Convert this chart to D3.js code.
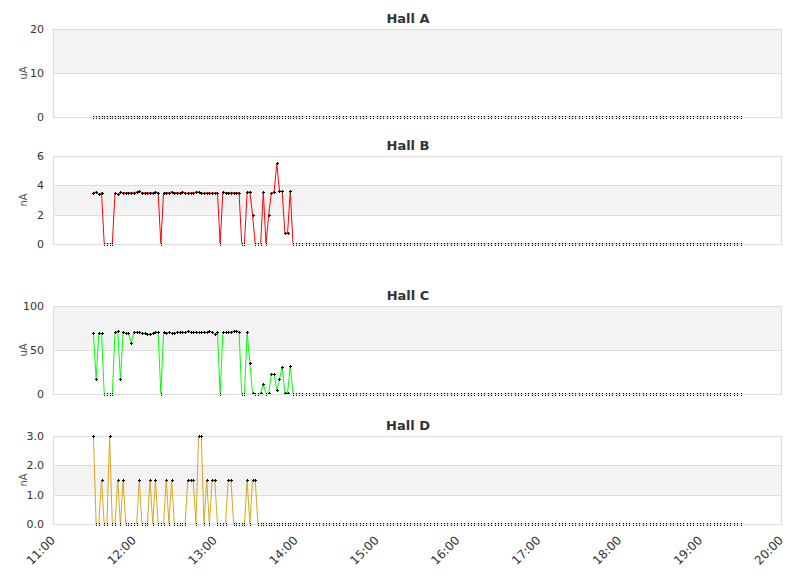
<!DOCTYPE html>
<html>
<head>
<meta charset="utf-8">
<script src="https://cdn.jsdelivr.net/npm/d3@7/dist/d3.min.js"></script>
<style>
  html, body { margin: 0; padding: 0; background: #ffffff; }
  svg { display: block; }
</style>
</head>
<body>
<div id="chart"></div>
<script>
// ---------------- data ----------------
const hallNames = ["Hall A", "Hall B", "Hall C", "Hall D"];
const hallUnits = ["uA", "nA", "uA", "nA"];

const yTicksA = [0, 10, 20];
const yTicksB = [0, 2, 4, 6];
const yTicksC = [0, 50, 100];
const yTicksD = [0, 1, 2, 3];
const yTickFormats = ["d", "d", "d", ".1f"];

const xTickLabels = ["11:00","12:00","13:00","14:00","15:00","16:00","17:00","18:00","19:00","20:00"];

// active period: readings every 2 minutes from 11:30 to 13:58
const activeStart = "11:30";
const activeStepMin = 2;
// idle period: readings every 2.5 minutes from 14:00 to 19:30
const idleStart = "14:00";
const idleStepMin = 2.5;

const hallAActive = [
  0,0,0,0,0,0,0,0,0,0,0,0,0,0,0,0,0,0,0,0,0,0,0,0,0,
  0,0,0,0,0,0,0,0,0,0,0,0,0,0,0,0,0,0,0,0,0,0,0,0,0,
  0,0,0,0,0,0,0,0,0,0,0,0,0,0,0,0,0,0,0,0,0,0,0,0,0
];
const hallBActive = [
  3.5,3.55,3.4,3.5, 0,0,0,0,
  3.5,3.4,3.55,3.5,3.5,3.5,3.5,3.5,3.55,3.6,3.5,3.5,3.5,3.5,3.5,3.55,3.5,
  0,
  3.5,3.5,3.5,3.55,3.5,3.5,3.5,3.55,3.5,3.45,3.5,3.5,3.55,3.55,3.5,3.45,3.5,3.5,3.45,3.5,3.5,
  0,
  3.55,3.5,3.5,3.5,3.5,3.5,3.5,
  0,0,
  3.55,3.55,2.0,0,0,0,3.55,0,2.0,3.5,3.55,5.5,3.6,3.6,0.75,0.75,3.6,0
];
const hallCActive = [
  69,17,69,69, 0,0,0,0,
  70,71.5,17,70,69,69,58,70,70.5,70,69,69,68.5,68,69,70.5,70,
  0,
  70,69.5,70,69,69.5,70.5,70.5,70.5,70,71.5,70.5,70,70.5,70,70,70.5,70,71.5,70.5,68,70,
  0,
  70,70,70,70.5,71.5,72,71,
  0,0,
  70,35.5,1.5,0,0,1,11.5,0.5,1.5,22.5,22.5,4.5,16.5,31,1.5,1.5,31.5,0
];
const hallDActive = [
  3.0,0,0,1.5,0,0,3.0,0,0,1.5,0,1.5,0,0,0,0,0,1.5,0,0,
  0,1.5,0,1.5,0,0,0,1.5,0,1.5,0,0,0,0,0,1.5,1.5,1.5,0,3.0,
  3.0,0,1.5,0,1.5,1.5,0,0,0,0,1.5,1.5,0,0,0,0,0,1.5,0,1.5,
  1.5,0,0,0,0,0,0,0,0,0,0,0,0,0,0
];
const idleValues = [
  0,0,0,0,0,0,0,0,0,0,0,0,0,0,0,0,0,0,0,0,0,0,0,0,0,0,0,0,0,0,0,0,0,0,0,0,0,0,0,0,
  0,0,0,0,0,0,0,0,0,0,0,0,0,0,0,0,0,0,0,0,0,0,0,0,0,0,0,0,0,0,0,0,0,0,0,0,0,0,0,0,
  0,0,0,0,0,0,0,0,0,0,0,0,0,0,0,0,0,0,0,0,0,0,0,0,0,0,0,0,0,0,0,0,0,0,0,0,0,0,0,0,
  0,0,0,0,0,0,0,0,0,0,0,0,0
];

// ---------------- layout / style ----------------
const W = 811, H = 578;
const plotLeft = 53, plotRight = 781;
const titleCenterX = 408;
const panelTops = [29, 156, 306, 436];
const panelHeight = 88;
const lineColors = ["#4572a7", "#ff0000", "#00ff00", "#daa520"];
const FONT = "'DejaVu Sans', sans-serif";

const parseT = d3.timeParse("%Y-%m-%d %H:%M");
const day = "2024-01-01 ";
const t0 = parseT(day + "11:00"), t1 = parseT(day + "20:00");

function buildSeries(active, idle) {
  const aStart = parseT(day + activeStart);
  const iStart = parseT(day + idleStart);
  const pts = [];
  active.forEach((v, i) => pts.push({ t: new Date(+aStart + i * activeStepMin * 60000), v }));
  idle.forEach((v, i) => pts.push({ t: new Date(+iStart + i * idleStepMin * 60000), v }));
  return pts;
}

const seriesList = [
  buildSeries(hallAActive, idleValues),
  buildSeries(hallBActive, idleValues),
  buildSeries(hallCActive, idleValues),
  buildSeries(hallDActive, idleValues)
];
const tickSets = [yTicksA, yTicksB, yTicksC, yTicksD];

const svg = d3.select("#chart").append("svg")
  .attr("width", W).attr("height", H)
  .attr("font-family", FONT);

const x = d3.scaleTime().domain([t0, t1]).range([plotLeft, plotRight]);

hallNames.forEach((name, k) => {
  const top = panelTops[k], bottom = top + panelHeight;
  const ticks = tickSets[k];
  const y = d3.scaleLinear().domain([ticks[0], ticks[ticks.length - 1]]).range([bottom, top]);
  const g = svg.append("g");

  // alternating bands
  for (let b = 0; b < ticks.length - 1; b++) {
    if (b % 2 === 1) {
      g.append("rect")
        .attr("x", plotLeft).attr("width", plotRight - plotLeft)
        .attr("y", y(ticks[b + 1])).attr("height", y(ticks[b]) - y(ticks[b + 1]))
        .attr("fill", "#f3f3f3");
    }
  }
  // grid lines (except baseline, drawn later on top)
  g.selectAll("line.grid").data(ticks.slice(1)).enter().append("line")
    .attr("x1", plotLeft).attr("x2", plotRight)
    .attr("y1", d => Math.round(y(d)) + 0.5).attr("y2", d => Math.round(y(d)) + 0.5)
    .attr("stroke", "#dcdcdc").attr("stroke-width", 1);
  // side borders
  [plotLeft, plotRight].forEach(px => {
    g.append("line").attr("x1", px + 0.5).attr("x2", px + 0.5)
      .attr("y1", top).attr("y2", bottom + 0.5)
      .attr("stroke", "#dcdcdc");
  });

  // y axis labels
  const fmt = d3.format(yTickFormats[k]);
  g.selectAll("text.yt").data(ticks).enter().append("text")
    .attr("x", plotLeft - 9).attr("y", d => y(d))
    .attr("dy", "0.35em").attr("text-anchor", "end")
    .attr("font-size", 11).attr("fill", "#333")
    .text(d => fmt(d));

  // unit label
  g.append("text")
    .attr("transform", `translate(27,${(top + bottom) / 2}) rotate(-90)`)
    .attr("text-anchor", "middle")
    .attr("font-size", 10).attr("fill", "#555")
    .text(hallUnits[k]);

  // title
  g.append("text")
    .attr("x", titleCenterX).attr("y", top - 6)
    .attr("text-anchor", "middle")
    .attr("font-size", 13).attr("font-weight", "bold").attr("fill", "#333")
    .text(name);

  // clip for the line
  const clipId = "clip" + k;
  svg.append("clipPath").attr("id", clipId).append("rect")
    .attr("x", plotLeft).attr("y", top).attr("width", plotRight - plotLeft)
    .attr("height", panelHeight - 0.5);

  const data = seriesList[k];
  const line = d3.line().x(d => x(d.t)).y(d => y(d.v));
  g.append("path").datum(data)
    .attr("clip-path", `url(#${clipId})`)
    .attr("d", line)
    .attr("fill", "none")
    .attr("stroke", lineColors[k])
    .attr("stroke-width", 1);

  // markers (pixel aligned small crosses)
  g.selectAll("path.mk").data(data).enter().append("path")
    .attr("transform", d => `translate(${Math.round(x(d.t)) + 0.5},${Math.round(y(d.v)) + 0.5})`)
    .attr("d", "M-1.5,0H1.5M0,-1.5V1.5")
    .attr("stroke", "#000").attr("stroke-width", 1)
    .attr("shape-rendering", "crispEdges");

  // baseline drawn on top of markers
  g.append("line")
    .attr("x1", plotLeft).attr("x2", plotRight + 1)
    .attr("y1", Math.round(y(ticks[0])) + 0.5).attr("y2", Math.round(y(ticks[0])) + 0.5)
    .attr("stroke", "#dcdcdc").attr("stroke-width", 1)
    .attr("shape-rendering", "crispEdges");
});

// x axis labels (under last panel)
const xBottom = panelTops[3] + panelHeight;
const tickTimes = xTickLabels.map(s => parseT(day + s));
svg.append("g").selectAll("text").data(tickTimes).enter().append("text")
  .attr("transform", (d) => `translate(${x(d) + 3},${xBottom + 17}) rotate(-45)`)
  .attr("text-anchor", "end")
  .attr("font-size", 12).attr("fill", "#333")
  .text((d, i) => xTickLabels[i]);
</script>
</body>
</html>
